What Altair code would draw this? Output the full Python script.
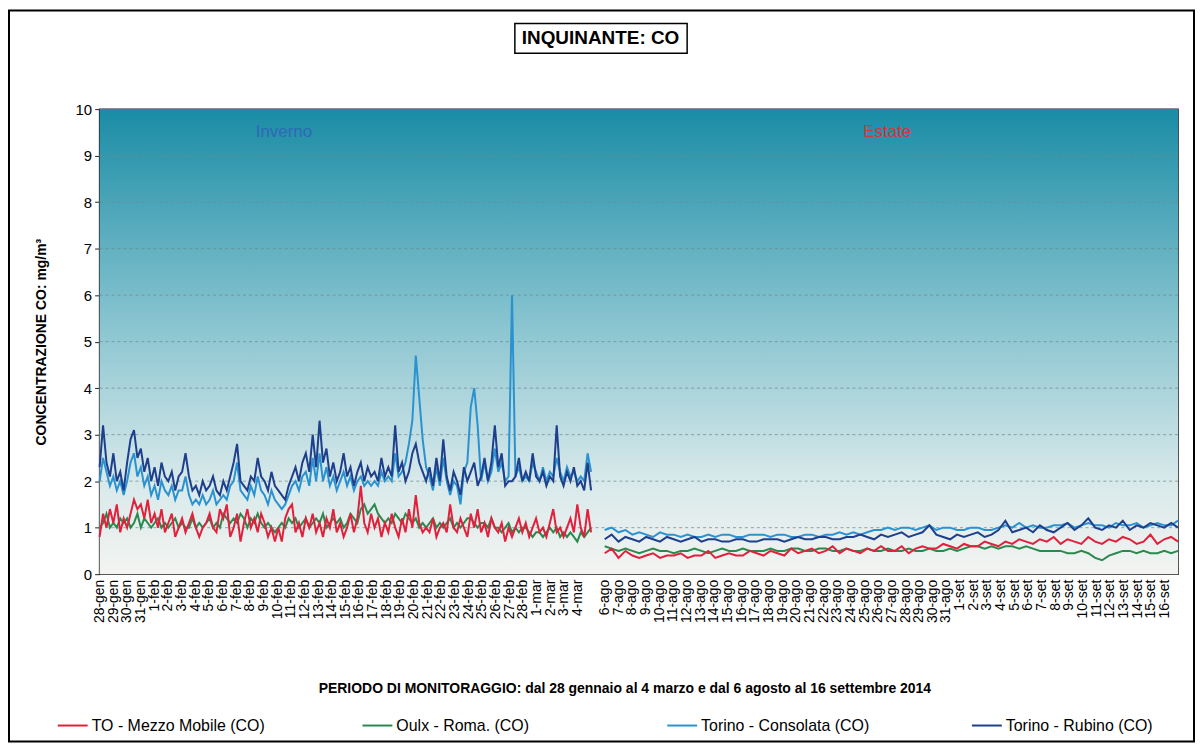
import altair as alt
import pandas as pd

# ---------------- data ----------------
SERIES = ["TO - Mezzo Mobile (CO)", "Oulx - Roma. (CO)", "Torino - Consolata  (CO)", "Torino - Rubino (CO)"]
COLORS = ["#e2203c", "#2a8a4e", "#2b92d0", "#1d3f8c"]

WINTER_LABELS = ["28-gen", "29-gen", "30-gen", "31-gen",
                 "1-feb", "2-feb", "3-feb", "4-feb", "5-feb", "6-feb", "7-feb", "8-feb", "9-feb", "10-feb",
                 "11-feb", "12-feb", "13-feb", "14-feb", "15-feb", "16-feb", "17-feb", "18-feb", "19-feb",
                 "20-feb", "21-feb", "22-feb", "23-feb", "24-feb", "25-feb", "26-feb", "27-feb", "28-feb",
                 "1-mar", "2-mar", "3-mar", "4-mar"]
SUMMER_LABELS = ["6-ago", "7-ago", "8-ago", "9-ago", "10-ago", "11-ago", "12-ago", "13-ago", "14-ago",
                 "15-ago", "16-ago", "17-ago", "18-ago", "19-ago", "20-ago", "21-ago", "22-ago", "23-ago",
                 "24-ago", "25-ago", "26-ago", "27-ago", "28-ago", "29-ago", "30-ago", "31-ago",
                 "1-set", "2-set", "3-set", "4-set", "5-set", "6-set", "7-set", "8-set", "9-set", "10-set",
                 "11-set", "12-set", "13-set", "14-set", "15-set", "16-set"]

# winter: 4 readings per day (28 gen - 4 mar)
W_MEZZO = [0.8,1.3,1.0,1.4, 1.1,1.5,0.9,1.2, 1.0,1.3,1.6,1.4, 1.5,1.2,1.6,1.1,
           1.3,1.0,1.4,0.9, 1.1,1.3,0.8,1.0, 1.2,0.9,1.1,1.3, 1.0,0.8,1.0,1.1,
           1.3,1.0,0.9,1.4, 1.2,1.5,0.8,1.0, 1.3,0.7,1.1,1.4, 1.0,1.2,0.9,1.3,
           1.1,0.8,1.0,0.7, 1.0,0.7,1.2,1.4, 1.5,0.9,1.1,0.8, 1.2,1.0,1.3,0.9,
           1.1,0.8,1.2,1.0, 1.4,0.9,1.1,0.8, 1.0,1.3,0.9,1.2, 1.9,1.1,0.9,1.3,
           1.0,1.2,0.8,1.1, 0.9,1.3,1.0,0.8, 1.2,0.9,1.4,1.0, 1.7,1.1,0.9,1.0,
           0.9,1.2,0.8,1.0, 1.1,0.9,1.5,1.0, 0.9,1.2,1.0,0.8, 1.3,1.0,1.4,0.9,
           1.1,0.8,1.2,1.0, 0.9,1.1,0.7,1.0, 0.8,1.0,1.2,0.9, 1.1,0.8,1.0,1.2,
           0.9,1.0,0.8,1.1, 1.4,0.9,1.0,0.8, 1.0,1.2,0.9,1.5, 1.0,0.8,1.4,0.9]
W_OULX = [1.0,1.1,1.3,1.0, 1.1,1.0,1.2,1.1, 1.2,1.0,1.1,1.3, 1.0,1.2,1.1,1.0,
          1.1,1.2,1.0,1.1, 1.0,1.1,1.2,1.0, 1.1,1.0,1.0,1.2, 1.0,1.1,1.0,1.1,
          1.2,1.0,1.1,1.0, 1.3,1.2,1.1,1.2, 1.1,1.3,1.2,1.0, 1.2,1.1,1.3,1.1,
          1.0,1.1,1.0,0.9, 1.0,1.1,1.0,1.2, 1.1,1.2,1.0,1.1, 1.2,1.0,1.1,1.2,
          1.1,1.3,1.0,1.1, 1.2,1.1,1.2,1.0, 1.1,1.3,1.2,1.1, 1.4,1.5,1.3,1.4,
          1.5,1.3,1.2,1.1, 1.2,1.1,1.3,1.2, 1.1,1.3,1.2,1.1, 1.2,1.0,1.1,1.0,
          1.1,1.2,1.0,1.1, 1.0,1.1,1.2,1.0, 1.1,1.0,1.1,1.2, 1.2,1.1,1.0,1.1,
          1.1,1.0,1.2,1.0, 1.0,0.9,1.0,1.1, 0.9,1.0,0.9,1.0, 1.0,0.9,0.8,0.9,
          0.9,0.8,0.9,1.0, 0.9,1.0,0.8,0.9, 0.8,0.9,0.8,0.7, 0.9,0.8,0.9,1.0]
W_CONSOLATA = [2.0,2.5,2.2,1.9, 2.1,1.8,2.0,1.7, 2.0,2.4,2.6,2.1, 2.3,1.9,2.1,1.7,
               1.9,1.6,2.0,1.8, 1.7,1.9,1.6,1.8, 1.8,2.1,1.7,1.5, 1.6,1.5,1.7,1.5,
               1.6,1.8,1.5,1.6, 1.7,1.6,1.9,2.0, 2.4,1.8,1.7,1.6, 1.9,1.7,2.1,1.8,
               1.7,1.5,1.8,1.6, 1.5,1.4,1.5,1.7, 1.9,2.0,1.8,2.1, 2.2,1.9,2.5,2.0,
               2.6,2.0,2.3,1.9, 2.1,1.8,2.0,2.2, 1.9,2.1,1.8,2.0, 2.1,1.9,2.0,1.9,
               2.0,1.9,2.2,2.0, 2.1,2.0,2.6,2.1, 2.2,2.4,2.8,3.3, 4.7,3.8,2.9,2.3,
               2.1,1.8,2.3,1.9, 2.5,2.0,1.7,2.0, 1.9,1.5,2.2,2.4, 3.6,4.0,3.2,2.0,
               2.4,2.0,2.2,2.7, 2.2,2.4,2.0,2.1, 6.0,2.1,2.3,2.0, 2.1,2.0,2.4,2.2,
               2.0,2.3,2.0,2.2, 2.1,2.5,2.2,2.0, 2.3,2.1,2.2,2.0, 2.1,2.0,2.6,2.2]
W_RUBINO = [2.3,3.2,2.4,2.1, 2.6,2.0,2.2,1.8, 2.4,2.9,3.1,2.5, 2.7,2.2,2.5,2.0,
            2.3,1.9,2.4,2.1, 2.0,2.2,1.8,2.1, 2.2,2.6,2.1,1.8, 1.9,1.7,2.0,1.8,
            1.9,2.1,1.8,1.7, 2.0,1.8,2.1,2.4, 2.8,2.0,1.9,1.8, 2.1,2.0,2.5,2.1,
            2.0,1.8,2.2,1.9, 1.8,1.7,1.6,1.9, 2.1,2.3,2.0,2.4, 2.6,2.2,3.0,2.3,
            3.3,2.4,2.7,2.1, 2.4,2.0,2.2,2.6, 2.1,2.3,1.9,2.2, 2.4,2.0,2.3,2.1,
            2.2,2.0,2.5,2.1, 2.3,2.1,3.2,2.2, 2.4,2.0,2.2,2.6, 2.8,2.4,2.2,2.0,
            2.3,1.9,2.5,2.0, 2.9,2.1,1.8,2.2, 2.0,1.7,2.3,2.0, 2.2,2.4,1.9,2.1,
            2.5,2.0,2.4,3.2, 2.3,2.6,1.9,2.0, 2.0,2.1,2.5,2.0, 2.2,2.0,2.6,2.1,
            2.0,2.2,1.9,2.1, 2.0,3.2,2.1,1.9, 2.2,2.0,2.3,1.9, 2.0,1.8,2.4,1.8]

# summer: 2 readings per day (6 ago - 16 set)
S_MEZZO = [0.45,0.55, 0.35,0.5, 0.4,0.35, 0.4,0.45, 0.35,0.4, 0.4,0.45, 0.35,0.4, 0.4,0.5, 0.35,0.4, 0.45,0.4,
           0.4,0.5, 0.45,0.4, 0.5,0.45, 0.4,0.55, 0.45,0.5, 0.55,0.45, 0.5,0.6, 0.45,0.55, 0.5,0.45, 0.55,0.5,
           0.6,0.5, 0.5,0.6, 0.45,0.55, 0.6,0.55, 0.55,0.65, 0.6,0.55,
           0.65,0.6, 0.6,0.7, 0.65,0.6, 0.7,0.65, 0.75,0.7, 0.65,0.75, 0.7,0.8, 0.65,0.75, 0.7,0.65, 0.8,0.7,
           0.65,0.75, 0.7,0.8, 0.75,0.65, 0.7,0.85, 0.65,0.75, 0.8,0.7]
S_OULX = [0.6,0.55, 0.5,0.55, 0.5,0.45, 0.5,0.55, 0.5,0.5, 0.45,0.5, 0.5,0.55, 0.5,0.45, 0.5,0.55, 0.5,0.5,
          0.55,0.5, 0.5,0.5, 0.55,0.5, 0.5,0.55, 0.55,0.5, 0.5,0.55, 0.55,0.5, 0.5,0.55, 0.5,0.5, 0.55,0.5,
          0.5,0.55, 0.5,0.5, 0.55,0.5, 0.5,0.55, 0.5,0.5, 0.55,0.5,
          0.55,0.6, 0.6,0.55, 0.6,0.55, 0.6,0.6, 0.55,0.6, 0.55,0.5, 0.5,0.5, 0.5,0.45, 0.45,0.5, 0.45,0.35,
          0.3,0.4, 0.45,0.5, 0.5,0.45, 0.5,0.45, 0.45,0.5, 0.45,0.5]
S_CONSOLATA = [0.95,1.0, 0.9,0.95, 0.85,0.9, 0.85,0.8, 0.9,0.85, 0.85,0.8, 0.85,0.8, 0.8,0.85, 0.8,0.85, 0.85,0.8,
               0.8,0.85, 0.85,0.85, 0.8,0.85, 0.85,0.8, 0.8,0.85, 0.85,0.8, 0.85,0.85, 0.9,0.85, 0.9,0.85, 0.9,0.95,
               0.95,1.0, 0.95,1.0, 1.0,0.95, 1.0,1.05, 0.95,1.0, 1.0,0.95,
               0.95,1.0, 1.0,0.95, 0.95,1.0, 1.05,1.0, 1.1,1.0, 1.05,1.0, 1.0,1.05, 1.05,1.1, 1.0,1.05, 1.1,1.05,
               1.05,1.0, 1.1,1.05, 1.05,1.1, 1.0,1.05, 1.1,1.05, 1.05,1.15]
S_RUBINO = [0.75,0.85, 0.7,0.8, 0.75,0.7, 0.8,0.75, 0.7,0.8, 0.75,0.7, 0.75,0.8, 0.7,0.75, 0.75,0.7, 0.7,0.75,
            0.75,0.7, 0.7,0.75, 0.75,0.75, 0.7,0.75, 0.8,0.75, 0.75,0.8, 0.8,0.75, 0.75,0.8, 0.8,0.85, 0.8,0.75,
            0.85,0.8, 0.85,0.9, 0.8,0.85, 0.9,1.05, 0.85,0.8, 0.75,0.85,
            0.8,0.85, 0.9,0.8, 0.85,0.95, 1.15,0.9, 0.95,1.0, 0.9,1.05, 0.95,0.9, 1.0,1.1, 0.95,1.05, 1.2,1.0,
            0.95,1.05, 1.0,1.15, 0.95,1.05, 1.0,1.1, 1.05,1.0, 1.1,1.0]

Y_TICKS = [0, 1, 2, 3, 4, 5, 6, 7, 8, 9, 10]
GRID_VALUES = [1, 2, 3, 4, 5, 6, 7, 8, 9]
SEASON_TEXT = ["Inverno", "Estate"]
SEASON_SLOT = [13.5, 57.7]
SEASON_Y = [9.5, 9.5]
SEASON_COLOR = ["#2f68b8", "#d6343f"]

# ---------------- build table ----------------
N_WINTER = len(WINTER_LABELS)          # 36 days
GAP = 1                                # one empty day between the periods
S_START = N_WINTER + GAP               # 37
N_SUMMER = len(SUMMER_LABELS)          # 42 days
TOTAL = S_START + N_SUMMER             # 79 day slots

rows = []
draw_order = [(SERIES[1], W_OULX, S_OULX), (SERIES[0], W_MEZZO, S_MEZZO),
              (SERIES[2], W_CONSOLATA, S_CONSOLATA), (SERIES[3], W_RUBINO, S_RUBINO)]
for name, wv, sv in draw_order:
    for i, v in enumerate(wv):
        rows.append({"serie": name, "periodo": "inverno", "x": i * N_WINTER / (len(wv) - 1), "y": v})
    for i, v in enumerate(sv):
        rows.append({"serie": name, "periodo": "estate", "x": S_START + i * N_SUMMER / (len(sv) - 1), "y": v})
df = pd.DataFrame(rows)

tick_slots = list(range(N_WINTER)) + list(range(S_START, TOTAL))
all_labels = WINTER_LABELS + [""] * GAP + SUMMER_LABELS
label_expr = "[" + ",".join("'" + s + "'" for s in all_labels) + "][datum.value]"

W, H = 1083, 467

xscale = alt.Scale(domain=[0, TOTAL], nice=False, zero=False)
yscale = alt.Scale(domain=[0, 10], nice=False)

xaxis = alt.Axis(values=tick_slots, labelExpr=label_expr, labelAngle=-90, labelOverlap=False,
                 labelFlush=False, labelFontSize=14, labelColor="black", labelPadding=5,
                 ticks=False, grid=False, domain=False,
                 title="PERIODO DI MONITORAGGIO: dal 28 gennaio al 4 marzo e dal 6 agosto al 16 settembre 2014",
                 titleFontSize=14, titleFontWeight="bold", titleColor="black",
                 titleX=527, titleY=115, titleAlign="center", titleBaseline="middle")
yaxis = alt.Axis(values=Y_TICKS, format="d", grid=False, tickSize=5, tickColor="#222",
                 domainColor="#222", labelFontSize=15, labelColor="black", labelPadding=3,
                 title="CONCENTRAZIONE CO: mg/m³", titleFontSize=14, titleFontWeight="bold",
                 titleColor="black", titleX=-58, titleY=H / 2, titleAlign="center",
                 titleBaseline="middle", titleAngle=270)

X_ENC = alt.X("x:Q", scale=xscale, axis=xaxis)
Y_ENC = alt.Y("y:Q", scale=yscale, axis=yaxis)

one = pd.DataFrame({"k": [0]})

gradient = alt.LinearGradient(
    gradient="linear", x1=0, x2=0, y1=0, y2=1,
    stops=[alt.GradientStop(offset=0, color="#1a8ca5"),
           alt.GradientStop(offset=0.45, color="#86c3cf"),
           alt.GradientStop(offset=0.8, color="#d8e9ea"),
           alt.GradientStop(offset=1, color="#f3f4f1")])

bg = alt.Chart(one).mark_rect(fill=gradient).encode(
    x=alt.value(0), x2=alt.value(W), y=alt.value(0), y2=alt.value(H))

grid = alt.Chart(pd.DataFrame({"y": GRID_VALUES})).mark_rule(
    color="#6d8a90", strokeDash=[3, 3], strokeWidth=1, opacity=0.75).encode(y=Y_ENC)

lines = alt.Chart(df).mark_line(strokeWidth=2).encode(
    x=X_ENC, y=Y_ENC,
    color=alt.Color("serie:N", scale=alt.Scale(domain=SERIES, range=COLORS),
                    legend=alt.Legend(title=None, orient="none", legendX=-43, legendY=603,
                                      direction="horizontal", columns=4, gridAlign="all",
                                      columnPadding=94, symbolType="stroke", symbolSize=900,
                                      symbolStrokeWidth=2, labelFontSize=16, labelColor="black",
                                      labelOffset=3, labelLimit=400)),
    detail="periodo:N")

seasons = alt.Chart(pd.DataFrame({"label": SEASON_TEXT, "x": SEASON_SLOT, "y": SEASON_Y,
                                  "c": SEASON_COLOR})).mark_text(fontSize=17).encode(
    x=X_ENC, y=Y_ENC, text="label:N", color=alt.Color("c:N", scale=None))

title_box = alt.Chart(one).mark_rect(fillOpacity=0, stroke="black", strokeWidth=1.5).encode(
    x=alt.value(417), x2=alt.value(590), y=alt.value(-86), y2=alt.value(-56))
title_txt = alt.Chart(one).mark_text(text="INQUINANTE: CO", fontSize=19, fontWeight="bold",
                                     align="center", baseline="middle", color="black").encode(
    x=alt.value(503), y=alt.value(-71))
frame = alt.Chart(one).mark_rect(fillOpacity=0, stroke="black", strokeWidth=2).encode(
    x=alt.value(-91), x2=alt.value(1099), y=alt.value(-99), y2=alt.value(635))

chart = alt.layer(bg, grid, lines, seasons, title_box, title_txt, frame).properties(
    width=W, height=H,
    autosize=alt.AutoSizeParams(type="none"),
    padding={"left": 92, "top": 100, "right": 17, "bottom": 169},
    background="white",
).configure(font="Liberation Sans").configure_view(stroke="#222", strokeWidth=1.5)

chart.save("out.html", embed_options={"renderer": "svg", "actions": False})
